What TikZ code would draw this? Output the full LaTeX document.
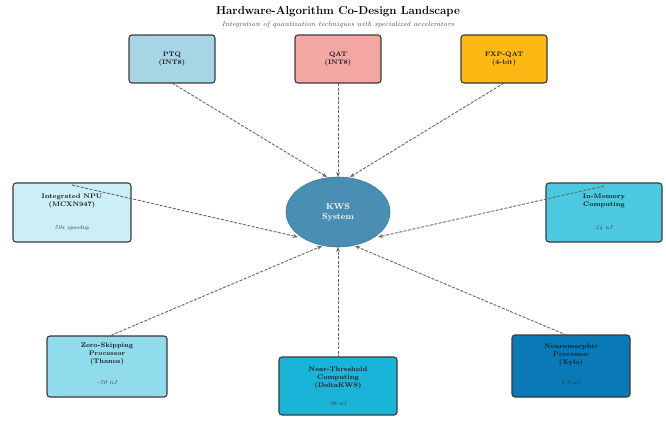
\documentclass[tikz,border=0pt]{standalone}
\usetikzlibrary{arrows.meta,shapes.geometric}
\definecolor{cptq}{HTML}{A8D5E5}
\definecolor{cqat}{HTML}{F2A7A3}
\definecolor{cfxp}{HTML}{FDB813}
\definecolor{cnpu}{HTML}{CCEFF7}
\definecolor{cimc}{HTML}{4CC9E0}
\definecolor{czs}{HTML}{90DCEC}
\definecolor{cnt}{HTML}{1AB4D9}
\definecolor{cnm}{HTML}{0A79B8}
\definecolor{ckws}{HTML}{4A8FB3}
\definecolor{cedge}{HTML}{3A3A3A}
\definecolor{carrow}{HTML}{666666}
\tikzset{
  hwbox/.style={draw=cedge, line width=1.1pt, rounded corners=3pt, inner sep=0pt},
  lbl/.style={font=\fontsize{6.6}{7.6}\selectfont\bfseries, align=center, text=black!90},
  val/.style={font=\fontsize{5.8}{6.5}\selectfont\itshape, text=black!80},
  conn/.style={draw=carrow, line width=0.9pt, dashed, dash pattern=on 3pt off 1.5pt, -{Stealth[length=5pt,width=4pt]}}
}
\begin{document}
\begin{tikzpicture}[x=1pt,y=-1pt]
\useasboundingbox (0,0) rectangle (666,421);
% title
\node (title) at (338,12) {\fontsize{11.5}{13}\selectfont\bfseries Hardware-Algorithm Co-Design Landscape};
\node (sub) at (338,25) {\fontsize{6.8}{8}\selectfont\itshape\color{black!70} Integration of quantization techniques with specialized accelerators};
% top boxes
\draw[hwbox, fill=cptq] (129,35) rectangle (215,83);
\coordinate (ptqb) at (172,83);
\node[lbl] (ptq) at (172,59) {PTQ\\(INT8)};
\draw[hwbox, fill=cqat] (295,35) rectangle (381,83);
\coordinate (qatb) at (338,83);
\node[lbl] (qat) at (338,59) {QAT\\(INT8)};
\draw[hwbox, fill=cfxp] (461,35) rectangle (547,83);
\coordinate (fxpb) at (504,83);
\node[lbl] (fxp) at (504,59) {FXP-QAT\\(4-bit)};
% side boxes
\draw[hwbox, fill=cnpu] (13,183) rectangle (131,242);
\coordinate (npub) at (72,185);
\node[lbl] (npu) at (72,201) {Integrated NPU\\(MCXN947)};
\node[val] (npuv) at (72,228) {59x speedup};
\draw[hwbox, fill=cimc] (546,183) rectangle (662,242);
\coordinate (imcb) at (604,186);
\node[lbl] (imc) at (604,201) {In-Memory\\Computing};
\node[val] (imcv) at (604,228) {14 nJ};
% bottom boxes
\draw[hwbox, fill=czs] (47,336) rectangle (167,397);
\coordinate (zsb) at (107,337);
\node[lbl] (zs) at (107,354) {Zero-Skipping\\Processor\\(Thanos)};
\node[val] (zsv) at (107,383) {\textasciitilde 50 nJ};
\draw[hwbox, fill=cnt] (279,357) rectangle (397,415);
\coordinate (ntb) at (338,358);
\node[lbl] (nt) at (338,378) {Near-Threshold\\Computing\\(DeltaKWS)};
\node[val] (ntv) at (338,404) {36 nJ};
\draw[hwbox, fill=cnm] (512,335) rectangle (630,397);
\coordinate (nmb) at (571,337);
\node[lbl] (nm) at (571,355) {Neuromorphic\\Processor\\(Xylo)};
\node[val] (nmv) at (571,383) {8.9 $\mu$J};
% center
\node[ellipse, fill=ckws, draw=ckws!85!black, line width=0.6pt, minimum width=104pt, minimum height=70pt, inner sep=0pt, font=\fontsize{8.5}{10}\selectfont\bfseries, text=white, align=center] (kws) at (338,212) {KWS\\System};
% endpoints on ellipse
\coordinate (e1) at (327,177);
\coordinate (e2) at (338,177);
\coordinate (e3) at (350,177);
\coordinate (e4) at (298,237);
\coordinate (e5) at (378,237);
\coordinate (e6) at (322,246);
\coordinate (e7) at (338,247);
\coordinate (e8) at (355,246);
\draw[conn] (ptqb) -- (e1);
\draw[conn] (qatb) -- (e2);
\draw[conn] (fxpb) -- (e3);
\draw[conn] (npub) -- (e4);
\draw[conn] (imcb) -- (e5);
\draw[conn] (zsb) -- (e6);
\draw[conn] (ntb) -- (e7);
\draw[conn] (nmb) -- (e8);
\end{tikzpicture}
\end{document}
